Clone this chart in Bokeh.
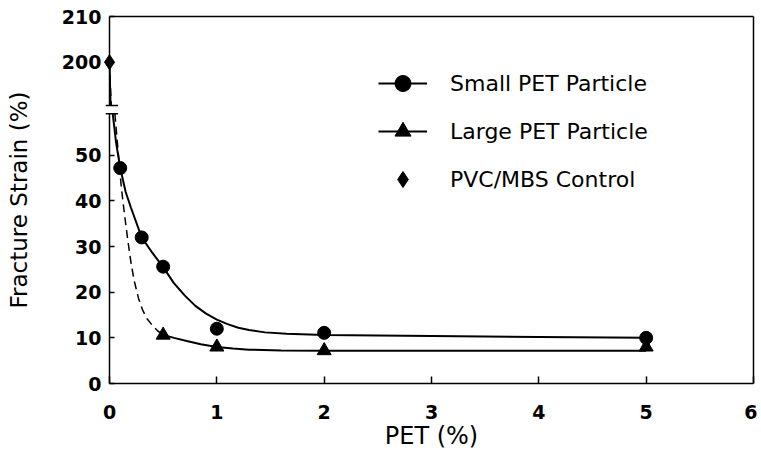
from bokeh.plotting import figure
from bokeh.models import Range1d, FixedTicker, Legend, LegendItem
from bokeh.embed import file_html
from bokeh.resources import INLINE

# ---------------- data ----------------
x_ticks = [0, 1, 2, 3, 4, 5, 6]
y_ticks = [0, 10, 20, 30, 40, 50, 200, 210]

small_x = [0.1, 0.3, 0.5, 1, 2, 5]
small_y = [47.2, 32, 25.6, 12, 11.1, 10]

large_x = [0.5, 1, 2, 5]
large_y = [10.6, 8.0, 7.2, 8.0]

control_x = [0]
control_y = [200]

# fitted curves
small_fit_upper_x = [0, 0.005, 0.01]
small_fit_upper_y = [200, 195, 190.5]
small_fit_x = [0.03, 0.06, 0.1, 0.15, 0.2, 0.3, 0.4, 0.5, 0.6, 0.7, 0.8, 0.9, 1.0,
               1.1, 1.2, 1.3, 1.45, 1.65, 2, 3, 4, 5]
small_fit_y = [59.1, 53, 47.2, 42, 38.5, 32, 28.6, 25.5, 22, 19.3, 17, 15.3, 14,
               13, 12.2, 11.7, 11.2, 10.9, 10.6, 10.4, 10.2, 10.0]

large_dash_upper_x = [0, 0.008, 0.016]
large_dash_upper_y = [200, 195, 190.5]
large_dash_x = [0.05, 0.08, 0.11, 0.14, 0.17, 0.2, 0.23, 0.27, 0.31, 0.35, 0.4, 0.45, 0.51]
large_dash_y = [59.1, 51, 43, 37, 31.5, 26.5, 22.5, 18.7, 16, 14.2, 12.7, 11.5, 10.6]

large_fit_x = [0.51, 0.6, 0.72, 0.85, 1.0, 1.15, 1.3, 1.6, 2, 3, 4, 5]
large_fit_y = [10.6, 10.0, 9.3, 8.6, 8.0, 7.65, 7.4, 7.25, 7.2, 7.2, 7.2, 7.2]

# ---------------- broken y axis mapping ----------------
OFFSET = 129.6      # values above the break are shifted down by this
BREAK_LO = 59.1     # display position of lower break mark
BREAK_HI = 60.9     # display position of upper break mark


def disp(vals):
    return [v if v < 100 else v - OFFSET for v in vals]


Y_TOP = disp([210])[0]

FONT = "DejaVu Sans"

p = figure(width=757, height=452, x_range=Range1d(0, 6), y_range=Range1d(0, Y_TOP),
           output_backend="svg", toolbar_location=None,
           min_border_left=109, min_border_right=4, min_border_top=16, min_border_bottom=66)
p.outline_line_color = None
p.grid.visible = False
p.background_fill_color = "white"
p.border_fill_color = "white"

# axes
xa = p.xaxis[0]
xa.ticker = FixedTicker(ticks=x_ticks)
xa.axis_line_width = 1.5
xa.major_tick_in = 7
xa.major_tick_out = 0
xa.minor_tick_line_color = None
xa.major_tick_line_width = 1.5
xa.major_label_standoff = 21
xa.major_label_text_font = FONT
xa.major_label_text_font_style = "bold"
xa.major_label_text_font_size = "19px"
xa.major_label_text_color = "black"
xa.axis_label = "PET (%)"
xa.axis_label_text_font = FONT
xa.axis_label_text_font_style = "normal"
xa.axis_label_text_font_size = "24px"
xa.axis_label_text_color = "black"
xa.axis_label_standoff = 0

ya = p.yaxis[0]
ytick_pos = disp(y_ticks)
ya.ticker = FixedTicker(ticks=ytick_pos)
ya.major_label_overrides = {pos: str(v) for pos, v in zip(ytick_pos, y_ticks)}
ya.axis_line_color = None
ya.major_tick_in = 5
ya.major_tick_out = 0
ya.major_tick_line_width = 1.5
ya.minor_tick_line_color = None
ya.major_label_standoff = 8
ya.major_label_text_font = FONT
ya.major_label_text_font_style = "bold"
ya.major_label_text_font_size = "19px"
ya.major_label_text_color = "black"
ya.axis_label = "Fracture Strain (%)"
ya.axis_label_text_font = FONT
ya.axis_label_text_font_style = "normal"
ya.axis_label_text_font_size = "23px"
ya.axis_label_text_color = "black"
ya.axis_label_standoff = 27

# frame edges (left edge broken)
p.segment(x0=[0, 0, 0, 6], y0=[0, BREAK_HI, Y_TOP, 0],
          x1=[0, 0, 6, 6], y1=[BREAK_LO, Y_TOP, Y_TOP, Y_TOP],
          line_color="black", line_width=1.5, level="overlay")
# break marks
p.segment(x0=[-0.035, -0.035], y0=[BREAK_LO, BREAK_HI],
          x1=[0.08, 0.08], y1=[BREAK_LO, BREAK_HI],
          line_color="black", line_width=1.5, level="overlay")

# curves
p.line(small_fit_upper_x, disp(small_fit_upper_y), line_color="black", line_width=2)
r_small_line = p.line(small_fit_x, disp(small_fit_y), line_color="black", line_width=2)
p.line(large_dash_upper_x, disp(large_dash_upper_y), line_color="black", line_width=1.5,
       line_dash="8 5")
p.line(large_dash_x, disp(large_dash_y), line_color="black", line_width=1.5, line_dash="8 5")
r_large_line = p.line(large_fit_x, disp(large_fit_y), line_color="black", line_width=2)

# markers
r_small = p.scatter(small_x, disp(small_y), marker="circle", size=13,
                    fill_color="black", line_color="black")
r_large = p.scatter(large_x, disp(large_y), marker="triangle", size=14,
                    fill_color="black", line_color="black")
r_ctrl = p.scatter(control_x, disp(control_y), marker="diamond", size=15,
                   fill_color="black", line_color="black", level="overlay")

legend = Legend(items=[
    LegendItem(label="Small PET Particle", renderers=[r_small_line, r_small]),
    LegendItem(label="Large PET Particle", renderers=[r_large_line, r_large]),
    LegendItem(label="PVC/MBS Control", renderers=[r_ctrl]),
], location=(269, 184))
legend.border_line_color = None
legend.background_fill_alpha = 0
legend.padding = 0
legend.margin = 0
legend.spacing = 8
legend.glyph_width = 49
legend.glyph_height = 40
legend.label_height = 40
legend.label_standoff = 23
legend.label_text_font = FONT
legend.label_text_font_size = "22px"
legend.label_text_color = "black"
legend.label_text_baseline = "middle"
p.add_layout(legend)

open("out.html", "w").write(file_html(p, INLINE))
